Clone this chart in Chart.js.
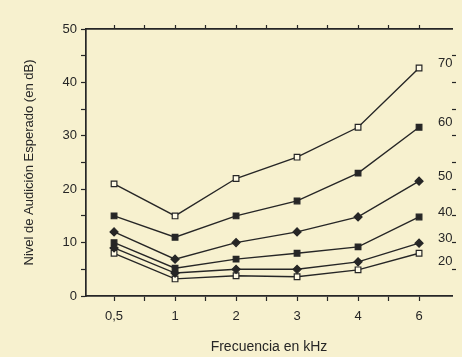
<!DOCTYPE html>
<html>
<head>
<meta charset="utf-8">
<script src="https://cdn.jsdelivr.net/npm/chart.js@4"></script>
<style>
  html, body { margin: 0; padding: 0; background: #f7f1cf; }
  #wrap { width: 462px; height: 357px; }
</style>
</head>
<body>
<div id="wrap"><canvas id="chart" width="462" height="357"></canvas></div>
<script>
// frecuencias (categorias del eje x)
const freqLabels = ['0,5', '1', '2', '3', '4', '6'];
// edades (etiquetas de cada curva)
const ageLabels = ['70', '60', '50', '40', '30', '20'];
// nivel de audicion esperado en dB por edad
const age70 = [21, 15, 22, 26, 31.6, 42.7];
const age60 = [15, 11, 15, 17.8, 23, 31.6];
const age50 = [12, 6.9, 10, 12, 14.8, 21.5];
const age40 = [10, 5.2, 6.9, 8, 9.2, 14.8];
const age30 = [9, 4.3, 5, 5, 6.4, 9.9];
const age20 = [8, 3.2, 3.8, 3.6, 4.9, 8];

const ink = '#262626';
const font = 'Liberation Sans, Arial, Helvetica, sans-serif';

const series = [age70, age60, age50, age40, age30, age20];
const styles = [
    { pointStyle: 'rect', fill: '#fffbe6', r: 4 },
    { pointStyle: 'rect', fill: ink, r: 4 },
    { pointStyle: 'rectRot', fill: ink, r: 4 },
    { pointStyle: 'rect', fill: ink, r: 4 },
    { pointStyle: 'rectRot', fill: ink, r: 4 },
    { pointStyle: 'rect', fill: '#fffbe6', r: 4 }
];

const datasets = series.map((vals, k) => ({
    label: ageLabels[k],
    data: vals.map((v, i) => ({ x: i, y: v })),
    borderColor: ink,
    borderWidth: 1.4,
    pointStyle: styles[k].pointStyle,
    pointRadius: styles[k].r,
    pointBackgroundColor: styles[k].fill,
    pointBorderColor: ink,
    pointBorderWidth: 1.2,
    tension: 0
}));

function halfTicks(scale) {
    const t = [];
    for (let v = 0; v <= 5; v += 0.5) t.push({ value: v });
    scale.ticks = t;
}

// etiquetas de edad al final de cada curva
const ageLabelPlugin = {
    id: 'ageLabels',
    afterDatasetsDraw(chart) {
        const ctx = chart.ctx;
        ctx.save();
        ctx.font = '13px ' + font;
        ctx.fillStyle = ink;
        ctx.textAlign = 'left';
        ctx.textBaseline = 'middle';
        let prev = -100;
        chart.data.datasets.forEach((ds, k) => {
            const meta = chart.getDatasetMeta(k);
            const p = meta.data[meta.data.length - 1];
            let y = p.y - 5;
            if (y < prev + 23) y = prev + 23;
            prev = y;
            ctx.fillText(ds.label, p.x + 19, y);
        });
        ctx.restore();
    }
};

new Chart(document.getElementById('chart'), {
    type: 'line',
    data: { datasets: datasets },
    options: {
        responsive: false,
        animation: false,
        layout: { padding: 0 },
        plugins: { legend: { display: false }, tooltip: { enabled: false } },
        scales: {
            x: {
                type: 'linear',
                position: 'bottom',
                min: -0.46,
                max: 5.54,
                afterBuildTicks: halfTicks,
                afterFit: s => { s.height = 61; },
                grid: { drawOnChartArea: false, tickLength: 5, tickColor: ink, tickWidth: 1.2 },
                border: { color: ink, width: 1.7 },
                ticks: {
                    color: ink,
                    font: { family: font, size: 13 },
                    padding: 8,
                    autoSkip: false,
                    maxRotation: 0,
                    callback: v => Number.isInteger(v) ? freqLabels[v] : ''
                },
                title: {
                    display: true,
                    text: 'Frecuencia en kHz',
                    color: ink,
                    font: { family: font, size: 14 },
                    padding: { top: 2, bottom: 1 }
                }
            },
            x2: {
                type: 'linear',
                position: 'top',
                min: -0.46,
                max: 5.54,
                afterBuildTicks: halfTicks,
                afterFit: s => { s.height = 29; },
                grid: { drawOnChartArea: false, tickLength: 4, tickColor: ink, tickWidth: 1.2 },
                border: { color: ink, width: 1.7 },
                ticks: { display: false }
            },
            y: {
                type: 'linear',
                position: 'left',
                min: 0,
                max: 50,
                afterBuildTicks: s => {
                    const t = [];
                    for (let v = 0; v <= 50; v += 5) t.push({ value: v });
                    s.ticks = t;
                },
                afterFit: s => { s.width = 86; },
                grid: { drawOnChartArea: false, tickLength: 5, tickColor: ink, tickWidth: 1.2 },
                border: { color: ink, width: 1.7 },
                ticks: {
                    color: ink,
                    font: { family: font, size: 13 },
                    padding: 4,
                    callback: v => v % 10 === 0 ? String(v) : ''
                },
                title: {
                    display: true,
                    text: 'Nivel de Audición Esperado (en dB)',
                    color: ink,
                    font: { family: font, size: 13 },
                    padding: { top: 22, bottom: 0 }
                }
            },
            y2: {
                type: 'linear',
                position: 'right',
                min: 0,
                max: 50,
                afterBuildTicks: s => {
                    const t = [];
                    for (let v = 5; v <= 45; v += 5) t.push({ value: v });
                    s.ticks = t;
                },
                afterFit: s => { s.width = 10; },
                grid: { drawOnChartArea: false, tickLength: 4, tickColor: ink, tickWidth: 1.2 },
                border: { display: false },
                ticks: { display: false }
            }
        }
    },
    plugins: [ageLabelPlugin]
});
</script>
</body>
</html>
